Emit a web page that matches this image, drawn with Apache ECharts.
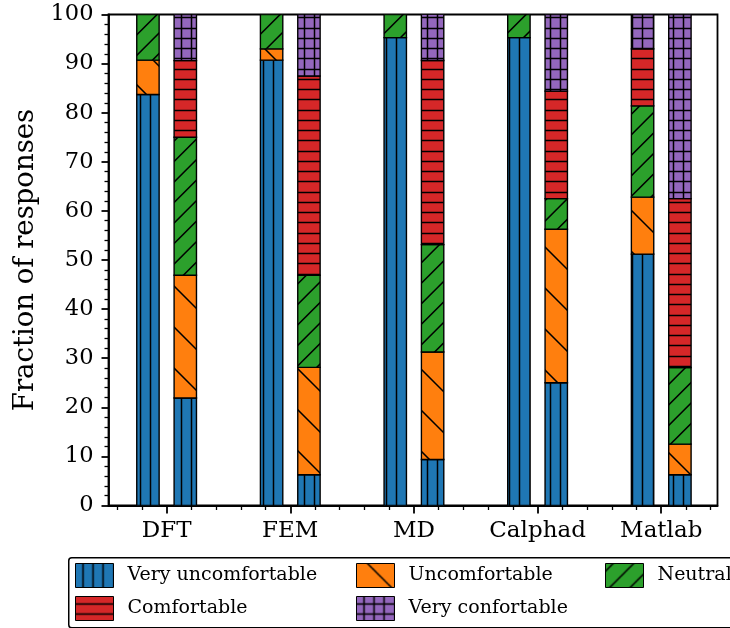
<!DOCTYPE html>
<html>
<head>
<meta charset="utf-8">
<script src="https://cdn.jsdelivr.net/npm/echarts@6/dist/echarts.min.js"></script>
<style>html,body{margin:0;padding:0;background:#fff;}#chart{width:730px;height:628px;}</style>
</head>
<body>
<div id="chart"></div>
<script>
// ---- data ----
const categories = ['DFT', 'FEM', 'MD', 'Calphad', 'Matlab'];
const levels = ['Very uncomfortable', 'Uncomfortable', 'Neutral', 'Comfortable', 'Very confortable'];
// first bar of each pair
const g1VeryUncomfortable = [83.7, 90.7, 95.3, 95.3, 51.2];
const g1Uncomfortable     = [7.0, 2.3, 0, 0, 11.6];
const g1Neutral           = [9.3, 7.0, 4.7, 4.7, 18.6];
const g1Comfortable       = [0, 0, 0, 0, 11.6];
const g1VeryConfortable   = [0, 0, 0, 0, 7.0];
// second bar of each pair
const g2VeryUncomfortable = [21.9, 6.25, 9.38, 25.0, 6.25];
const g2Uncomfortable     = [25.0, 21.88, 21.88, 31.25, 6.25];
const g2Neutral           = [28.1, 18.75, 21.88, 6.25, 15.6];
const g2Comfortable       = [15.6, 40.6, 37.5, 21.9, 34.4];
const g2VeryConfortable   = [9.4, 12.5, 9.38, 15.6, 37.5];
const yTicks = [0, 10, 20, 30, 40, 50, 60, 70, 80, 90, 100];

const group1 = [g1VeryUncomfortable, g1Uncomfortable, g1Neutral, g1Comfortable, g1VeryConfortable];
const group2 = [g2VeryUncomfortable, g2Uncomfortable, g2Neutral, g2Comfortable, g2VeryConfortable];

// ---- styles ----
const colors = ['#1f77b4', '#ff7f0e', '#2ca02c', '#d62728', '#9467bd'];
const hatches = ['|', '\\', '/', '-', '+'];
const FONT = 'DejaVu Serif';
const U = 41;

function makePattern(color, kind) {
  const c = document.createElement('canvas');
  c.width = U; c.height = U;
  const ctx = c.getContext('2d');
  ctx.fillStyle = color;
  ctx.fillRect(0, 0, U, U);
  ctx.strokeStyle = '#000';
  ctx.lineWidth = 1.5;
  ctx.beginPath();
  if (kind === '|' || kind === '+') {
    for (let k = 0; k < 4; k++) {
      const x = (17 + Math.round(k * 10.25)) % U + 0.5;
      ctx.moveTo(x, -1); ctx.lineTo(x, U + 1);
    }
  }
  if (kind === '-' || kind === '+') {
    for (let k = 0; k < 4; k++) {
      const y = (7 + Math.round(k * 10.25)) % U + 0.5;
      ctx.moveTo(-1, y); ctx.lineTo(U + 1, y);
    }
  }
  if (kind === '\\') {
    for (const c0 of [30 - U, 30, 30 + U]) {
      ctx.moveTo(-3, c0 - 3); ctx.lineTo(U + 3, c0 + U + 3);
    }
  }
  if (kind === '/') {
    for (let m = -1; m < 6; m++) {
      const c0 = 7.6 + m * 20.5;
      ctx.moveTo(-3, c0 + 3); ctx.lineTo(c0 + 3, -3);
    }
  }
  ctx.stroke();
  return { image: c, repeat: 'repeat' };
}
const patterns = colors.map((col, i) => makePattern(col, hatches[i]));

const BAR_OFFSET = 0.151;
const BAR_HALF = 0.0905;

function renderItem(params, api) {
  const xc = api.value(0) + (api.value(1) === 0 ? -BAR_OFFSET : BAR_OFFSET);
  const bl = api.coord([xc - BAR_HALF, api.value(2)]);
  const tr = api.coord([xc + BAR_HALF, api.value(3)]);
  return {
    type: 'rect',
    shape: { x: bl[0], y: tr[1], width: tr[0] - bl[0], height: bl[1] - tr[1] },
    style: { fill: patterns[params.seriesIndex], stroke: '#000', lineWidth: 1.4 }
  };
}

const series = levels.map((name, li) => {
  const data = [];
  categories.forEach((cat, ci) => {
    [group1, group2].forEach((grp, gi) => {
      let start = 0;
      for (let k = 0; k < li; k++) start += grp[k][ci];
      const v = grp[li][ci];
      if (v > 0) data.push([ci, gi, start, start + v]);
    });
  });
  return {
    name: name,
    type: 'custom',
    xAxisIndex: 0,
    yAxisIndex: 0,
    renderItem: renderItem,
    encode: { x: 0, y: 3 },
    itemStyle: { color: patterns[li], borderColor: '#000', borderWidth: 1.2 },
    data: data,
    clip: true,
    silent: true
  };
});

const majorX = categories.map((c, i) => i);
const minorX = [];
for (let k = -2; k <= 22; k++) { if (k % 5 !== 0) minorX.push(k / 5); }

// legend layout: [level index, left, top]
const legendSlots = [[0, 75, 563], [1, 356, 563], [2, 605, 563], [3, 75, 596], [4, 356, 596]];
const legends = legendSlots.map(s => ({
  left: s[1], top: s[2],
  data: [levels[s[0]]],
  icon: 'rect',
  itemWidth: 38,
  itemHeight: 24,
  padding: 0,
  itemStyle: { borderColor: '#000', borderWidth: 1 },
  textStyle: { fontFamily: FONT, fontSize: 19, color: '#000', padding: [0, 0, 0, 9] },
  selectedMode: false
}));

const chart = echarts.init(document.getElementById('chart'), null, { renderer: 'canvas' });
chart.setOption({
  animation: false,
  backgroundColor: '#fff',
  grid: {
    left: 108.5, top: 14.5, width: 609, height: 491,
    show: true, borderColor: '#000', borderWidth: 1.8, backgroundColor: 'transparent'
  },
  xAxis: [
    {
      type: 'value', min: -0.47, max: 4.455, position: 'bottom',
      axisLine: { show: true, onZero: false, lineStyle: { color: '#000', width: 1.8 } },
      axisTick: { show: true, customValues: majorX, length: 8, lineStyle: { color: '#000', width: 1.8 } },
      axisLabel: {
        customValues: majorX, margin: 14, color: '#000', fontFamily: FONT, fontSize: 23,
        formatter: v => categories[Math.round(v)]
      },
      splitLine: { show: false }
    },
    {
      type: 'value', min: -0.47, max: 4.455, position: 'bottom',
      axisLine: { show: false },
      axisTick: { show: true, customValues: minorX, length: 4.5, lineStyle: { color: '#000', width: 1.3 } },
      axisLabel: { show: false },
      splitLine: { show: false }
    }
  ],
  yAxis: {
    type: 'value', min: 0, max: 100, interval: 10,
    name: 'Fraction of responses', nameLocation: 'middle', nameGap: 64, nameRotate: 90,
    nameTextStyle: { fontFamily: FONT, fontSize: 27.5, color: '#000' },
    axisLine: { show: true, onZero: false, lineStyle: { color: '#000', width: 1.8 } },
    axisTick: { show: true, length: 7, lineStyle: { color: '#000', width: 1.8 } },
    minorTick: { show: true, splitNumber: 5, length: 4, lineStyle: { color: '#000', width: 1.3 } },
    axisLabel: { margin: 15, color: '#000', fontFamily: FONT, fontSize: 22.5,
      customValues: yTicks },
    splitLine: { show: false }
  },
  legend: legends,
  graphic: [{
    type: 'rect', left: 68, top: 557, z: -1,
    shape: { width: 700, height: 70, r: 3 },
    style: { fill: '#fff', stroke: '#000', lineWidth: 1.5 }
  }],
  series: series
});
</script>
</body>
</html>
